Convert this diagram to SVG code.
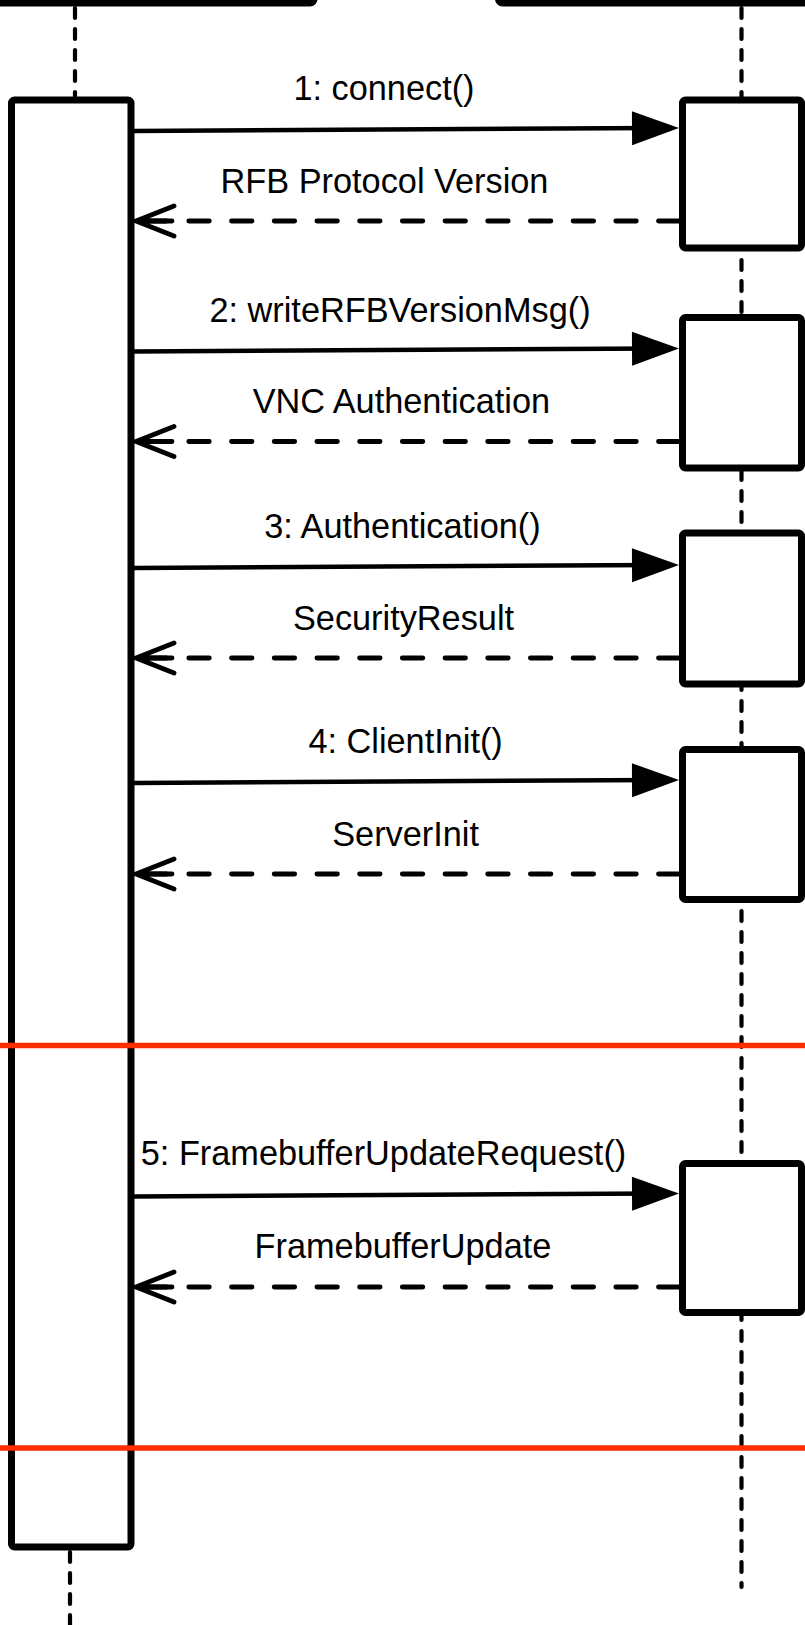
<svg xmlns="http://www.w3.org/2000/svg" width="805" height="1625" viewBox="0 0 805 1625">
  <style>
    .obj { fill: #fff; stroke: #000; stroke-width: 7; }
    .life { fill: none; stroke: #000; stroke-width: 4.2; stroke-dasharray: 10 11; stroke-linecap: round; }
    .call { fill: none; stroke: #000; stroke-width: 4.5; }
    .reply { fill: none; stroke: #000; stroke-width: 4.8; stroke-dasharray: 20.5 22.2; stroke-linecap: round; }
    .sep { stroke: #ff2d00; stroke-width: 5.5; }
    text { font-family: "Liberation Sans", Arial, Helvetica, sans-serif; font-size: 34.3px; fill: #000; text-anchor: middle; }
  </style>
  <defs>
    <marker id="solidHead" markerUnits="userSpaceOnUse" orient="auto" refX="0" refY="0" overflow="visible">
      <path d="M-27,-17 L20,0 L-27,17 Z" fill="#000"/>
    </marker>
    <marker id="openHead" markerUnits="userSpaceOnUse" orient="auto" refX="0" refY="0" overflow="visible">
      <path d="M-38,-15 L0,0 L-38,15 M0,0 H-36" fill="none" stroke="#000" stroke-width="4.8" stroke-linecap="round" stroke-linejoin="miter"/>
    </marker>
  </defs>

  <!-- lifelines -->
  <g id="lifelines">
    <path class="life" d="M75,8 V96"/>
    <path class="life" d="M70,1552 V1625"/>
    <path class="life" d="M741.5,8 V1587"/>
  </g>

  <!-- participant heads (cut at the top edge) -->
  <g id="client-head">
    <rect class="obj" x="-20" y="-100" width="334" height="103" rx="4"/>
  </g>
  <g id="server-head">
    <rect class="obj" x="498.5" y="-100" width="340" height="103" rx="4"/>
  </g>

  <!-- client activation -->
  <g id="client-activation">
    <rect class="obj" x="11.5" y="100" width="119.5" height="1447" rx="3"/>
  </g>

  <!-- server activations -->
  <g id="server-act-1"><rect class="obj" x="682.5" y="100" width="119" height="148" rx="3"/></g>
  <g id="server-act-2"><rect class="obj" x="682.5" y="317.5" width="119" height="150.5" rx="3"/></g>
  <g id="server-act-3"><rect class="obj" x="682.5" y="533" width="119" height="151" rx="3"/></g>
  <g id="server-act-4"><rect class="obj" x="682.5" y="749.5" width="119" height="150" rx="3"/></g>
  <g id="server-act-5"><rect class="obj" x="682.5" y="1163.5" width="119" height="149" rx="3"/></g>

  <!-- messages -->
  <g id="connectors">
    <path class="call" d="M134,131 L659,128" marker-end="url(#solidHead)"/>
    <path class="reply" d="M679,221 H136" marker-end="url(#openHead)"/>

    <path class="call" d="M134,351.5 L659,348.5" marker-end="url(#solidHead)"/>
    <path class="reply" d="M679,441.5 H136" marker-end="url(#openHead)"/>

    <path class="call" d="M134,568 L659,565" marker-end="url(#solidHead)"/>
    <path class="reply" d="M679,658 H136" marker-end="url(#openHead)"/>

    <path class="call" d="M134,783 L659,780" marker-end="url(#solidHead)"/>
    <path class="reply" d="M679,874 H136" marker-end="url(#openHead)"/>

    <path class="call" d="M134,1196.5 L659,1193.5" marker-end="url(#solidHead)"/>
    <path class="reply" d="M679,1287 H136" marker-end="url(#openHead)"/>
  </g>

  <!-- message labels -->
  <g id="labels">
    <text x="384" y="99.5">1: connect()</text>
    <text x="384.5" y="192.5">RFB Protocol Version</text>
    <text x="400" y="321.7">2: writeRFBVersionMsg()</text>
    <text x="401.4" y="413">VNC Authentication</text>
    <text x="402.5" y="537.5">3: Authentication()</text>
    <text x="403.5" y="629.5">SecurityResult</text>
    <text x="405.6" y="752.5">4: ClientInit()</text>
    <text x="405.6" y="845.5">ServerInit</text>
    <text x="383.5" y="1165">5: FramebufferUpdateRequest()</text>
    <text x="403" y="1258.3">FramebufferUpdate</text>
  </g>

  <!-- phase separators -->
  <g id="separators">
    <line class="sep" x1="0" y1="1045.5" x2="805" y2="1045.5"/>
    <line class="sep" x1="0" y1="1448" x2="805" y2="1448"/>
  </g>
</svg>
